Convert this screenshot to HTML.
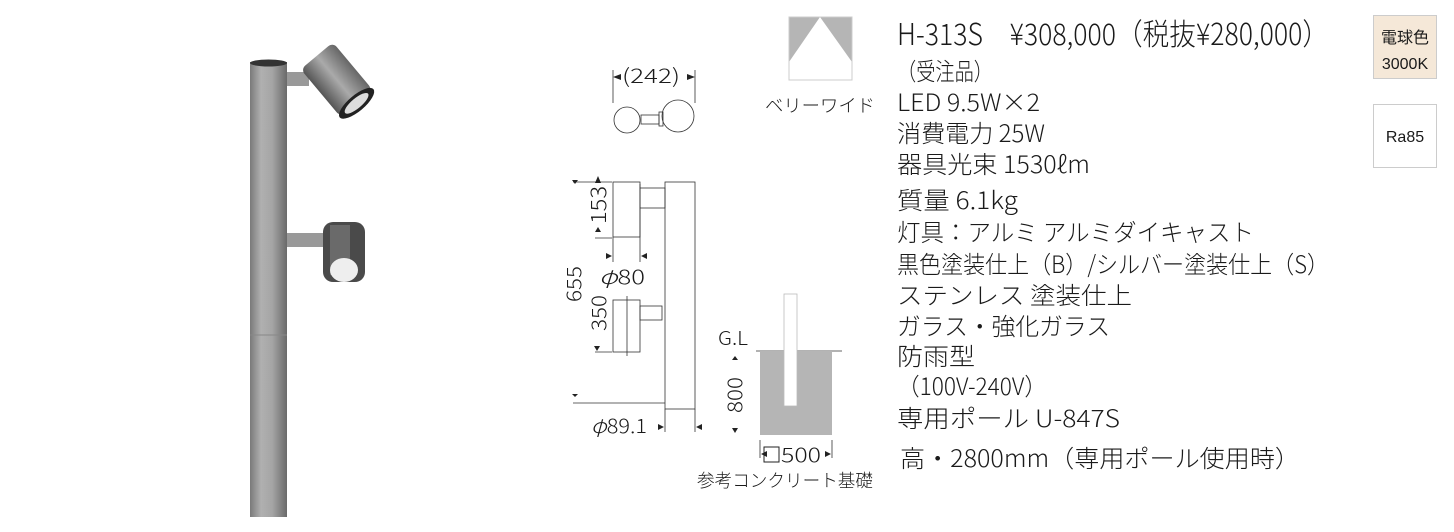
<!DOCTYPE html>
<html><head><meta charset="utf-8"><style>
html,body{margin:0;padding:0;background:#fff;width:1454px;height:532px;overflow:hidden}
svg{display:block}
text{font-family:"Liberation Sans","Noto Sans CJK JP",sans-serif;fill:#1a1a1a}
.j{font-family:"Noto Sans CJK JP",sans-serif}
.s{font-family:"Noto Sans CJK JP",sans-serif;font-weight:300}
</style></head><body>
<svg width="1454" height="532" viewBox="0 0 1454 532">
<defs>
<linearGradient id="pg" x1="0" x2="1">
<stop offset="0" stop-color="#7a7a7a"/><stop offset="0.3" stop-color="#b0b0b0"/><stop offset="0.6" stop-color="#a5a5a5"/><stop offset="1" stop-color="#6a6a6a"/>
</linearGradient>
<linearGradient id="lg" x1="0" y1="0" x2="0" y2="1">
<stop offset="0" stop-color="#666"/><stop offset="0.5" stop-color="#aaa"/><stop offset="1" stop-color="#555"/>
</linearGradient>
</defs>
<rect x="250" y="62" width="37" height="455" fill="url(#pg)"/>
<ellipse cx="268.5" cy="63" rx="18.5" ry="3.5" fill="#333"/>
<line x1="250" y1="335" x2="287" y2="335" stroke="#888" stroke-width="1"/>
<rect x="287" y="72" width="22" height="14" fill="#999"/>
<g transform="rotate(50 340 82)"><rect x="305" y="62" width="62" height="42" rx="6" fill="url(#lg)"/><ellipse cx="367" cy="83" rx="8" ry="22" fill="#222"/><ellipse cx="367" cy="83" rx="5" ry="15" fill="#ddd"/></g>
<rect x="287" y="233" width="40" height="14" fill="#999"/>
<rect x="323" y="222" width="42" height="60" rx="10" fill="#4a4a4a"/>
<rect x="330" y="225" width="20" height="50" fill="#6a6a6a"/>
<ellipse cx="344" cy="270" rx="14" ry="12" fill="#eee"/>
<rect x="789" y="17" width="63" height="63" fill="#b5b5b5"/>
<polygon points="820,17 789,62 789,80 852,80 852,62" fill="#fff"/>
<rect x="789" y="17" width="63" height="63" fill="none" stroke="#ccc"/>
<text x="820" y="112" font-size="18" text-anchor="middle" class="s" textLength="110" lengthAdjust="spacingAndGlyphs">ベリーワイド</text>
<g stroke="#333" fill="none" stroke-width="0.8">
<line x1="613" y1="70" x2="613" y2="103"/><line x1="695" y1="70" x2="695" y2="103"/>
<circle cx="627" cy="120" r="13"/><circle cx="678" cy="116" r="16"/>
<rect x="641" y="115" width="18" height="9"/><rect x="659" y="112" width="4" height="14"/>
<line x1="573" y1="182" x2="612" y2="182"/>
<line x1="595" y1="238" x2="612" y2="238"/>
<rect x="613" y="182" width="27" height="55"/>
<line x1="640" y1="184" x2="640" y2="237"/>
<rect x="640" y="188" width="25" height="20"/>
<rect x="665" y="182" width="30" height="227"/>
<line x1="613" y1="237" x2="613" y2="262"/><line x1="640" y1="237" x2="640" y2="262"/>
<rect x="613" y="300" width="27" height="52"/>
<line x1="627" y1="296" x2="627" y2="356"/>
<rect x="640" y="306" width="22" height="14"/>
<line x1="595" y1="352" x2="612" y2="352"/>
<line x1="573" y1="403" x2="665" y2="403"/>
<line x1="665" y1="409" x2="665" y2="432"/><line x1="695" y1="409" x2="695" y2="432"/>
<line x1="756" y1="351" x2="842" y2="351"/>
<line x1="760" y1="440" x2="760" y2="458"/><line x1="832" y1="440" x2="832" y2="458"/>
</g>
<rect x="760" y="351" width="72" height="84" fill="#b5b5b5"/>
<rect x="784" y="294" width="13" height="112" fill="#fff" stroke="#bbb" stroke-width="0.8"/>
<g fill="#222">
<polygon points="613,77 621,74 621,80"/><polygon points="695,77 687,74 687,80"/>
<polygon points="598,176 601,183 595,183"/>
<polygon points="601,232 595,232 598,227"/>
<polygon points="612,256 606,253 606,259"/><polygon points="641,256 647,253 647,259"/>
<polygon points="575,184 572,180 578,180"/>
<polygon points="600,346 594,346 597,351"/>
<polygon points="575,397 572,394 578,394"/>
<polygon points="664,427 658,424 658,430"/><polygon points="696,427 702,424 702,430"/>
<polygon points="735,356 732,360 738,360"/><polygon points="735,433 732,428 738,428"/>
<polygon points="761,454 767,451 767,457"/><polygon points="831,454 825,451 825,457"/>
</g>
<text x="622" y="83" font-size="20" class="s" textLength="58" lengthAdjust="spacingAndGlyphs">(242)</text>
<text transform="translate(606,224) rotate(-90)" font-size="21" class="s" textLength="38" lengthAdjust="spacingAndGlyphs">153</text>
<text x="599" y="284" font-size="20" class="s" textLength="46" lengthAdjust="spacingAndGlyphs"><tspan font-style="italic">φ</tspan>80</text>
<text transform="translate(581,302) rotate(-90)" font-size="20" class="s" textLength="36" lengthAdjust="spacingAndGlyphs">655</text>
<text transform="translate(606,331) rotate(-90)" font-size="20" class="s" textLength="36" lengthAdjust="spacingAndGlyphs">350</text>
<text x="591" y="433" font-size="20" class="s" textLength="56" lengthAdjust="spacingAndGlyphs"><tspan font-style="italic">φ</tspan>89.1</text>
<text x="718" y="345" font-size="19" class="s" textLength="30" lengthAdjust="spacingAndGlyphs">G.L</text>
<text transform="translate(742,413) rotate(-90)" font-size="20" class="s" textLength="36" lengthAdjust="spacingAndGlyphs">800</text>
<rect x="764" y="447" width="15" height="15" fill="none" stroke="#222" stroke-width="1"/>
<text x="781" y="462" font-size="20" class="s" textLength="40" lengthAdjust="spacingAndGlyphs">500</text>
<text x="697" y="487" font-size="18" class="s" textLength="176" lengthAdjust="spacingAndGlyphs">参考コンクリート基礎</text>
<text x="897" y="45" font-size="30" class="s" textLength="432" lengthAdjust="spacingAndGlyphs">H-313S　¥308,000（税抜¥280,000）</text>
<text x="897" y="80" font-size="24" class="s" textLength="96" lengthAdjust="spacingAndGlyphs">（受注品）</text>
<text x="897" y="111" font-size="24" class="s" textLength="143" lengthAdjust="spacingAndGlyphs">LED 9.5W×2</text>
<text x="897" y="142" font-size="24" class="s" textLength="148" lengthAdjust="spacingAndGlyphs">消費電力 25W</text>
<text x="897" y="173" font-size="24" class="s" textLength="193" lengthAdjust="spacingAndGlyphs">器具光束 1530ℓm</text>
<text x="897" y="209" font-size="24" class="s" textLength="121" lengthAdjust="spacingAndGlyphs">質量 6.1kg</text>
<text x="897" y="241" font-size="24" class="s" textLength="357" lengthAdjust="spacingAndGlyphs">灯具：アルミ アルミダイキャスト</text>
<text x="897" y="273" font-size="24" class="s" textLength="432" lengthAdjust="spacingAndGlyphs">黒色塗装仕上（B）/シルバー塗装仕上（S）</text>
<text x="897" y="304" font-size="24" class="s" textLength="235" lengthAdjust="spacingAndGlyphs">ステンレス 塗装仕上</text>
<text x="897" y="335" font-size="24" class="s" textLength="213" lengthAdjust="spacingAndGlyphs">ガラス・強化ガラス</text>
<text x="897" y="365" font-size="24" class="s" textLength="78" lengthAdjust="spacingAndGlyphs">防雨型</text>
<text x="897" y="395" font-size="24" class="s" textLength="150" lengthAdjust="spacingAndGlyphs">（100V-240V）</text>
<text x="897" y="427" font-size="24" class="s" textLength="223" lengthAdjust="spacingAndGlyphs">専用ポール U-847S</text>
<text x="900" y="467" font-size="24" class="s" textLength="400" lengthAdjust="spacingAndGlyphs">高・2800mm（専用ポール使用時）</text>
<rect x="1373.5" y="15.5" width="63" height="63" fill="#f5e8d8" stroke="#ccc"/>
<text x="1405" y="43" font-size="16" text-anchor="middle" class="j">電球色</text>
<text x="1405" y="69" font-size="16" text-anchor="middle">3000K</text>
<rect x="1373.5" y="104.5" width="63" height="63" fill="#fff" stroke="#ccc"/>
<text x="1405" y="142" font-size="16" text-anchor="middle">Ra85</text>
</svg>
</body></html>
